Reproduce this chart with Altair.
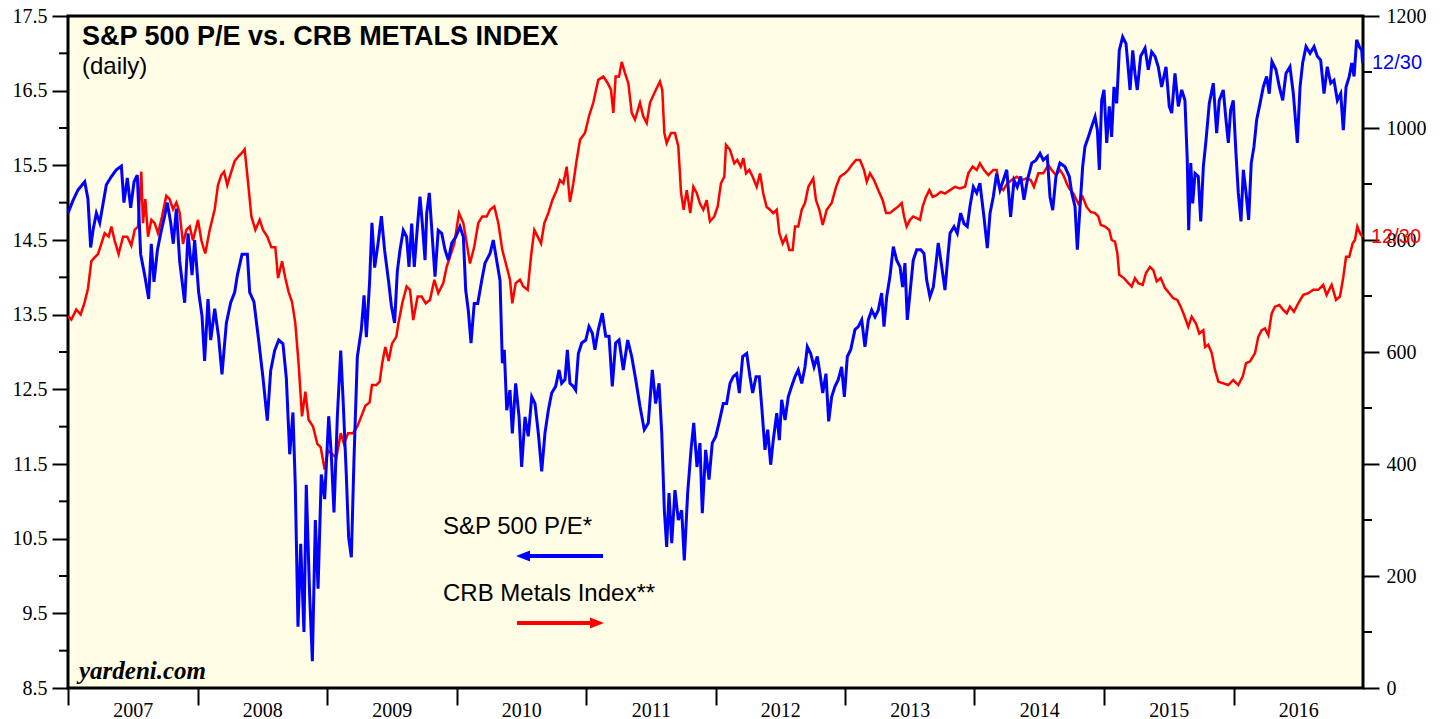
import altair as alt
import pandas as pd

# ---------------- data ----------------
PE_T = [2007.000, 2007.039, 2007.077, 2007.129, 2007.154, 2007.175, 2007.193, 2007.219, 2007.245, 2007.270,
        2007.296, 2007.335, 2007.373, 2007.412, 2007.432, 2007.458, 2007.484, 2007.510, 2007.535, 2007.561,
        2007.592, 2007.623, 2007.643, 2007.664, 2007.690, 2007.716, 2007.746, 2007.767, 2007.793, 2007.813,
        2007.837, 2007.862, 2007.901, 2007.927, 2007.958, 2007.978, 2008.009, 2008.035, 2008.055, 2008.081,
        2008.102, 2008.133, 2008.163, 2008.189, 2008.223, 2008.256, 2008.287, 2008.308, 2008.344, 2008.385,
        2008.403, 2008.436, 2008.472, 2008.506, 2008.539, 2008.565, 2008.596, 2008.627, 2008.660, 2008.686,
        2008.712, 2008.737, 2008.755, 2008.776, 2008.797, 2008.822, 2008.840, 2008.866, 2008.887, 2008.910,
        2008.931, 2008.956, 2008.982, 2009.013, 2009.033, 2009.054, 2009.080, 2009.106, 2009.124, 2009.149,
        2009.167, 2009.188, 2009.208, 2009.234, 2009.265, 2009.286, 2009.304, 2009.329, 2009.347, 2009.368,
        2009.394, 2009.420, 2009.445, 2009.476, 2009.497, 2009.522, 2009.543, 2009.564, 2009.589, 2009.615,
        2009.633, 2009.654, 2009.674, 2009.700, 2009.718, 2009.736, 2009.757, 2009.770, 2009.790, 2009.813,
        2009.834, 2009.859, 2009.886, 2009.911, 2009.937, 2009.963, 2009.994, 2010.027, 2010.053, 2010.071,
        2010.091, 2010.112, 2010.137, 2010.164, 2010.195, 2010.220, 2010.259, 2010.284, 2010.310, 2010.336,
        2010.354, 2010.369, 2010.388, 2010.413, 2010.431, 2010.457, 2010.483, 2010.503, 2010.529, 2010.554,
        2010.581, 2010.606, 2010.632, 2010.658, 2010.683, 2010.709, 2010.735, 2010.766, 2010.792, 2010.812,
        2010.838, 2010.856, 2010.876, 2010.902, 2010.920, 2010.941, 2010.967, 2010.998, 2011.023, 2011.049,
        2011.069, 2011.095, 2011.126, 2011.152, 2011.178, 2011.203, 2011.229, 2011.255, 2011.288, 2011.322,
        2011.353, 2011.384, 2011.417, 2011.450, 2011.481, 2011.512, 2011.538, 2011.564, 2011.585, 2011.605,
        2011.623, 2011.641, 2011.662, 2011.687, 2011.713, 2011.739, 2011.759, 2011.785, 2011.811, 2011.832,
        2011.857, 2011.880, 2011.898, 2011.924, 2011.950, 2011.975, 2012.002, 2012.027, 2012.060, 2012.086,
        2012.112, 2012.137, 2012.164, 2012.184, 2012.210, 2012.241, 2012.266, 2012.287, 2012.313, 2012.338,
        2012.357, 2012.382, 2012.403, 2012.426, 2012.446, 2012.473, 2012.493, 2012.511, 2012.537, 2012.562,
        2012.588, 2012.614, 2012.639, 2012.666, 2012.691, 2012.709, 2012.735, 2012.761, 2012.786, 2012.807,
        2012.828, 2012.853, 2012.874, 2012.897, 2012.923, 2012.948, 2012.974, 2012.995, 2013.018, 2013.044,
        2013.077, 2013.103, 2013.129, 2013.154, 2013.180, 2013.206, 2013.232, 2013.257, 2013.283, 2013.301,
        2013.322, 2013.347, 2013.373, 2013.399, 2013.425, 2013.445, 2013.463, 2013.481, 2013.502, 2013.527,
        2013.554, 2013.585, 2013.610, 2013.631, 2013.656, 2013.682, 2013.703, 2013.720, 2013.747, 2013.772,
        2013.790, 2013.811, 2013.842, 2013.867, 2013.893, 2013.919, 2013.944, 2013.965, 2013.991, 2014.017,
        2014.042, 2014.073, 2014.099, 2014.120, 2014.145, 2014.171, 2014.197, 2014.222, 2014.249, 2014.279,
        2014.305, 2014.330, 2014.357, 2014.382, 2014.408, 2014.442, 2014.475, 2014.506, 2014.531, 2014.562,
        2014.583, 2014.604, 2014.629, 2014.660, 2014.699, 2014.732, 2014.751, 2014.776, 2014.794, 2014.815,
        2014.835, 2014.853, 2014.879, 2014.905, 2014.931, 2014.949, 2014.964, 2014.982, 2015.000, 2015.021,
        2015.041, 2015.059, 2015.077, 2015.098, 2015.118, 2015.144, 2015.170, 2015.188, 2015.201, 2015.222,
        2015.239, 2015.257, 2015.283, 2015.317, 2015.342, 2015.368, 2015.394, 2015.419, 2015.445, 2015.479,
        2015.504, 2015.523, 2015.548, 2015.574, 2015.600, 2015.625, 2015.643, 2015.654, 2015.670, 2015.685,
        2015.703, 2015.728, 2015.747, 2015.767, 2015.788, 2015.813, 2015.844, 2015.870, 2015.890, 2015.921,
        2015.942, 2015.960, 2015.978, 2015.998, 2016.019, 2016.037, 2016.058, 2016.076, 2016.097, 2016.117,
        2016.137, 2016.158, 2016.179, 2016.205, 2016.230, 2016.256, 2016.276, 2016.297, 2016.328, 2016.354,
        2016.380, 2016.405, 2016.436, 2016.462, 2016.493, 2016.514, 2016.534, 2016.560, 2016.591, 2016.622,
        2016.647, 2016.673, 2016.699, 2016.724, 2016.751, 2016.776, 2016.802, 2016.828, 2016.848, 2016.869,
        2016.894, 2016.913, 2016.931, 2016.951, 2016.971, 2016.990, 2016.997]

PE_V = [14.86, 15.03, 15.17, 15.28, 15.05, 14.40, 14.63, 14.86, 14.73, 14.98,
        15.24, 15.35, 15.44, 15.49, 15.00, 15.33, 14.93, 15.28, 15.37, 14.31,
        14.03, 13.71, 14.45, 13.94, 14.36, 14.59, 14.82, 15.00, 14.73, 14.45,
        14.92, 14.22, 13.66, 14.59, 14.03, 14.50, 13.80, 13.48, 12.88, 13.71,
        13.16, 13.58, 13.20, 12.70, 13.39, 13.66, 13.80, 14.03, 14.31, 14.31,
        13.80, 13.67, 13.16, 12.65, 12.08, 12.75, 13.02, 13.16, 13.11, 12.65,
        11.63, 12.19, 11.22, 9.32, 10.43, 9.25, 11.22, 9.74, 8.86, 10.75,
        9.83, 11.36, 11.03, 12.14, 11.63, 10.85, 12.14, 13.02, 12.37, 11.36,
        10.52, 10.25, 11.54, 12.93, 13.30, 13.76, 13.20, 13.94, 14.73, 14.13,
        14.45, 14.82, 14.36, 13.94, 13.62, 13.39, 14.08, 14.37, 14.63, 14.54,
        14.14, 14.72, 14.14, 14.72, 15.08, 14.72, 14.23, 14.86, 15.13, 14.54,
        14.01, 14.63, 14.59, 14.37, 14.23, 14.46, 14.54, 14.68, 14.54, 13.83,
        13.56, 13.12, 13.65, 13.65, 13.96, 14.19, 14.32, 14.50, 14.23, 13.96,
        12.85, 13.03, 12.22, 12.49, 11.91, 12.58, 12.13, 11.46, 12.13, 11.87,
        12.40, 12.31, 11.91, 11.40, 11.91, 12.22, 12.45, 12.54, 12.76, 12.58,
        12.63, 13.03, 12.58, 12.54, 12.49, 12.98, 13.12, 13.16, 13.34, 13.25,
        13.03, 13.30, 13.52, 13.21, 13.21, 12.54, 13.12, 13.16, 12.76, 13.16,
        12.94, 12.63, 12.27, 11.96, 12.05, 12.76, 12.31, 12.58, 11.91, 10.88,
        10.39, 11.11, 10.44, 11.15, 10.75, 10.88, 10.21, 11.11, 11.69, 12.05,
        11.46, 11.78, 10.84, 11.69, 11.29, 11.78, 11.87, 12.05, 12.31, 12.31,
        12.58, 12.67, 12.71, 12.45, 12.94, 12.98, 12.67, 12.45, 12.67, 12.67,
        12.27, 11.69, 11.96, 11.49, 11.82, 12.18, 11.82, 12.36, 12.09, 12.40,
        12.54, 12.67, 12.76, 12.58, 12.80, 13.07, 12.98, 12.80, 12.94, 12.71,
        12.45, 12.71, 12.07, 12.40, 12.54, 12.63, 12.80, 12.40, 12.94, 13.03,
        13.30, 13.34, 13.43, 13.07, 13.43, 13.56, 13.47, 13.56, 13.79, 13.34,
        13.74, 14.01, 14.41, 14.23, 14.14, 13.87, 14.19, 13.43, 13.79, 14.23,
        14.37, 14.37, 14.32, 13.96, 13.74, 13.87, 14.19, 14.46, 14.14, 13.83,
        14.19, 14.59, 14.68, 14.59, 14.86, 14.72, 14.68, 14.95, 15.21, 15.13,
        15.26, 14.81, 14.39, 14.86, 15.08, 15.39, 15.17, 15.30, 15.44, 14.81,
        15.30, 15.21, 15.35, 15.04, 15.30, 15.53, 15.57, 15.66, 15.57, 15.62,
        15.08, 14.90, 15.35, 15.53, 15.48, 15.35, 15.13, 14.95, 14.37, 14.95,
        15.48, 15.75, 15.88, 16.02, 16.15, 15.97, 15.44, 16.37, 16.51, 15.80,
        16.29, 15.88, 16.55, 16.33, 17.04, 17.22, 17.13, 16.78, 16.51, 17.04,
        16.73, 16.51, 16.96, 17.07, 16.78, 17.02, 16.96, 16.82, 16.55, 16.82,
        16.29, 16.20, 16.73, 16.29, 16.51, 16.37, 15.57, 14.63, 15.53, 14.99,
        15.39, 15.35, 14.75, 15.48, 15.84, 16.33, 16.60, 15.93, 16.37, 16.51,
        16.11, 15.80, 16.24, 16.37, 15.66, 15.13, 14.75, 15.44, 15.13, 14.77,
        15.53, 15.75, 16.11, 16.33, 16.55, 16.69, 16.46, 16.89, 16.78, 16.55,
        16.37, 16.73, 16.82, 16.46, 15.80, 16.55, 16.87, 17.09, 17.00, 17.09,
        16.96, 16.91, 16.46, 16.82, 16.60, 16.64, 16.37, 16.46, 15.97, 16.55,
        16.69, 16.87, 16.69, 17.18, 17.09, 17.04, 16.87]

CRB_T = [2007.000, 2007.026, 2007.064, 2007.098, 2007.129, 2007.154, 2007.180, 2007.206, 2007.232, 2007.257,
         2007.283, 2007.314, 2007.335, 2007.360, 2007.391, 2007.425, 2007.458, 2007.489, 2007.515, 2007.541,
         2007.566, 2007.579, 2007.597, 2007.618, 2007.644, 2007.669, 2007.695, 2007.726, 2007.759, 2007.785,
         2007.811, 2007.837, 2007.862, 2007.888, 2007.914, 2007.940, 2007.965, 2008.004, 2008.030, 2008.060,
         2008.094, 2008.133, 2008.158, 2008.184, 2008.205, 2008.230, 2008.261, 2008.287, 2008.318, 2008.344,
         2008.364, 2008.390, 2008.416, 2008.447, 2008.480, 2008.506, 2008.539, 2008.570, 2008.601, 2008.622,
         2008.653, 2008.678, 2008.704, 2008.730, 2008.755, 2008.781, 2008.807, 2008.833, 2008.858, 2008.892,
         2008.925, 2008.951, 2008.982, 2009.008, 2009.039, 2009.072, 2009.106, 2009.131, 2009.162, 2009.201,
         2009.234, 2009.265, 2009.296, 2009.329, 2009.347, 2009.381, 2009.407, 2009.425, 2009.450, 2009.476,
         2009.502, 2009.535, 2009.551, 2009.581, 2009.615, 2009.641, 2009.666, 2009.700, 2009.731, 2009.762,
         2009.795, 2009.829, 2009.859, 2009.898, 2009.924, 2009.950, 2009.983, 2010.019, 2010.053, 2010.079,
         2010.104, 2010.137, 2010.168, 2010.199, 2010.233, 2010.259, 2010.292, 2010.323, 2010.354, 2010.388,
         2010.413, 2010.431, 2010.457, 2010.490, 2010.516, 2010.550, 2010.575, 2010.601, 2010.627, 2010.653,
         2010.678, 2010.709, 2010.740, 2010.774, 2010.799, 2010.825, 2010.851, 2010.876, 2010.902, 2010.928,
         2010.954, 2010.992, 2011.023, 2011.056, 2011.095, 2011.134, 2011.168, 2011.193, 2011.211, 2011.229,
         2011.255, 2011.276, 2011.301, 2011.327, 2011.353, 2011.378, 2011.417, 2011.442, 2011.469, 2011.494,
         2011.527, 2011.571, 2011.589, 2011.605, 2011.623, 2011.656, 2011.687, 2011.713, 2011.734, 2011.754,
         2011.778, 2011.805, 2011.829, 2011.855, 2011.880, 2011.906, 2011.932, 2011.957, 2011.991, 2012.017,
         2012.042, 2012.068, 2012.081, 2012.112, 2012.145, 2012.168, 2012.195, 2012.215, 2012.236, 2012.261,
         2012.287, 2012.318, 2012.344, 2012.369, 2012.395, 2012.421, 2012.446, 2012.473, 2012.493, 2012.519,
         2012.544, 2012.570, 2012.596, 2012.614, 2012.639, 2012.666, 2012.691, 2012.717, 2012.755, 2012.776,
         2012.802, 2012.828, 2012.859, 2012.897, 2012.931, 2012.961, 2013.000, 2013.025, 2013.052, 2013.085,
         2013.116, 2013.147, 2013.168, 2013.193, 2013.224, 2013.257, 2013.291, 2013.317, 2013.347, 2013.378,
         2013.412, 2013.438, 2013.456, 2013.476, 2013.502, 2013.527, 2013.554, 2013.579, 2013.600, 2013.625,
         2013.651, 2013.677, 2013.708, 2013.739, 2013.772, 2013.811, 2013.849, 2013.888, 2013.927, 2013.952,
         2013.986, 2014.017, 2014.042, 2014.073, 2014.107, 2014.145, 2014.171, 2014.191, 2014.222, 2014.253,
         2014.287, 2014.326, 2014.364, 2014.403, 2014.434, 2014.459, 2014.493, 2014.531, 2014.570, 2014.596,
         2014.629, 2014.660, 2014.686, 2014.712, 2014.732, 2014.763, 2014.802, 2014.835, 2014.866, 2014.897,
         2014.931, 2014.956, 2014.975, 2015.008, 2015.041, 2015.059, 2015.085, 2015.103, 2015.118, 2015.154,
         2015.188, 2015.214, 2015.239, 2015.265, 2015.299, 2015.324, 2015.355, 2015.381, 2015.407, 2015.438,
         2015.471, 2015.504, 2015.535, 2015.566, 2015.592, 2015.618, 2015.651, 2015.677, 2015.710, 2015.736,
         2015.767, 2015.780, 2015.805, 2015.832, 2015.857, 2015.883, 2015.921, 2015.960, 2015.998, 2016.037,
         2016.071, 2016.097, 2016.127, 2016.166, 2016.191, 2016.218, 2016.243, 2016.269, 2016.295, 2016.320,
         2016.354, 2016.384, 2016.411, 2016.436, 2016.467, 2016.500, 2016.539, 2016.578, 2016.616, 2016.655,
         2016.693, 2016.719, 2016.758, 2016.792, 2016.822, 2016.848, 2016.869, 2016.894, 2016.920, 2016.938,
         2016.956, 2016.977, 2016.997]

CRB_V = [664, 658, 676, 667, 689, 713, 762, 769, 775, 793,
         812, 806, 824, 799, 775, 806, 806, 790, 818, 824,
         922, 830, 873, 806, 836, 830, 812, 842, 879, 873,
         855, 867, 849, 793, 818, 824, 799, 836, 799, 776,
         818, 855, 898, 916, 922, 898, 922, 941, 950, 956,
         962, 904, 842, 818, 836, 818, 806, 787, 787, 732,
         762, 732, 707, 689, 652, 578, 485, 529, 479, 467,
         436, 430, 390, 424, 418, 411, 455, 436, 455, 455,
         467, 485, 504, 510, 541, 541, 547, 578, 609, 584,
         615, 627, 651, 687, 717, 711, 657, 699, 699, 687,
         693, 729, 705, 723, 752, 770, 794, 848, 830, 794,
         758, 788, 830, 842, 842, 854, 860, 830, 782, 752,
         729, 687, 723, 729, 717, 711, 770, 818, 806, 794,
         830, 848, 871, 889, 907, 901, 931, 868, 901, 943,
         979, 991, 1021, 1045, 1086, 1092, 1080, 1068, 1027, 1092,
         1092, 1118, 1098, 1080, 1027, 1015, 1045, 1021, 1009, 1045,
         1062, 1083, 1068, 991, 973, 991, 991, 967, 884, 854,
         889, 848, 895, 884, 865, 854, 871, 833, 842, 860,
         901, 913, 970, 961, 937, 943, 931, 946, 919, 925,
         913, 895, 919, 883, 859, 854, 848, 854, 812, 794,
         806, 782, 782, 824, 824, 854, 866, 895, 910, 871,
         854, 827, 854, 866, 895, 913, 919, 925, 934, 943,
         943, 925, 904, 919, 907, 889, 871, 848, 848, 854,
         860, 866, 842, 824, 836, 842, 839, 836, 860, 877,
         889, 877, 880, 886, 883, 889, 895, 892, 895, 919,
         931, 925, 937, 925, 916, 925, 925, 895, 889, 901,
         907, 913, 907, 910, 907, 895, 919, 919, 934, 925,
         916, 925, 916, 901, 892, 883, 865, 877, 859, 850,
         848, 842, 827, 824, 818, 800, 797, 776, 738, 732,
         723, 717, 732, 723, 720, 741, 752, 746, 726, 732,
         714, 705, 696, 693, 681, 666, 645, 663, 651, 633,
         639, 609, 613, 598, 568, 547, 544, 541, 550, 541,
         556, 580, 583, 598, 627, 639, 642, 630, 669, 681,
         684, 675, 669, 681, 672, 687, 702, 705, 711, 711,
         720, 702, 720, 693, 699, 734, 770, 770, 794, 800,
         824, 812, 806]

YEARS = list(range(2007, 2017))
PE_MAJOR = [8.5, 9.5, 10.5, 11.5, 12.5, 13.5, 14.5, 15.5, 16.5, 17.5]
PE_MINOR = [9, 10, 11, 12, 13, 14, 15, 16, 17]
CRB_MAJOR = [0, 200, 400, 600, 800, 1000, 1200]
CRB_MINOR = [100, 300, 500, 700, 900, 1100]

TITLE = "S&P 500 P/E vs. CRB METALS INDEX"
SUBTITLE = "(daily)"
SOURCE = "yardeni.com"
PE_LABEL = "S&P 500 P/E*"
CRB_LABEL = "CRB Metals Index**"
LAST_LABEL = "12/30"

BLUE = "#0000ff"
RED = "#ff0000"
W, H = 1295, 672
SANS = "Liberation Sans"
SERIF = "Liberation Serif"

pe_df = pd.DataFrame({"t": PE_T, "pe": PE_V})
crb_df = pd.DataFrame({"t": CRB_T, "crb": CRB_V})

xscale = alt.Scale(domain=[2007, 2017], nice=False, zero=False)
pe_scale = alt.Scale(domain=[8.5, 17.5], nice=False, zero=False)
crb_scale = alt.Scale(domain=[0, 1200], nice=False, zero=False)

xaxis = alt.Axis(values=YEARS, format="d", title=None, tickSize=17, tickWidth=2, tickColor="black",
                 labelOffset=W / 20, labelFont=SERIF, labelFontSize=20, labelColor="black",
                 labelPadding=-5, domain=False, grid=False, labelFlush=False, labelOverlap=False)

blue = alt.Chart(pe_df).mark_line(color=BLUE, strokeWidth=3).encode(
    x=alt.X("t:Q", scale=xscale, axis=xaxis),
    y=alt.Y("pe:Q", scale=pe_scale,
            axis=alt.Axis(orient="left", values=PE_MAJOR, format=".1f", title=None, tickSize=16,
                          tickWidth=2, tickColor="black", labelFont=SERIF, labelFontSize=20,
                          labelColor="black", labelPadding=5, domain=False, grid=False,
                          labelFlush=False, labelOverlap=False)),
)

red = alt.Chart(crb_df).mark_line(color=RED, strokeWidth=2.5).encode(
    x=alt.X("t:Q", scale=xscale, axis=xaxis),
    y=alt.Y("crb:Q", scale=crb_scale,
            axis=alt.Axis(orient="right", values=CRB_MAJOR, format="d", title=None, tickSize=16,
                          tickWidth=2, tickColor="black", labelFont=SERIF, labelFontSize=20,
                          labelColor="black", labelPadding=7, domain=False, grid=False,
                          labelFlush=False, labelOverlap=False)),
)

pe_minor = alt.Chart(pd.DataFrame({"v": PE_MINOR})).mark_rule(color="black", strokeWidth=2).encode(
    y=alt.Y("v:Q", scale=pe_scale, axis=None), x=alt.value(-9), x2=alt.value(0))
crb_minor = alt.Chart(pd.DataFrame({"v": CRB_MINOR})).mark_rule(color="black", strokeWidth=2).encode(
    y=alt.Y("v:Q", scale=crb_scale, axis=None), x=alt.value(W), x2=alt.value(W + 9))

pe_last = alt.Chart(pd.DataFrame({"v": [PE_V[-1]], "s": [LAST_LABEL]})).mark_text(
    align="left", baseline="middle", font=SANS, fontSize=20, color=BLUE).encode(
    y=alt.Y("v:Q", scale=pe_scale, axis=None), x=alt.value(W + 9), text="s:N")
crb_last = alt.Chart(pd.DataFrame({"v": [CRB_V[-1]], "s": [LAST_LABEL]})).mark_text(
    align="left", baseline="middle", font=SANS, fontSize=20, color=RED).encode(
    y=alt.Y("v:Q", scale=crb_scale, axis=None), x=alt.value(W + 8), text="s:N")


def label(text, x, y, **kw):
    return alt.Chart(pd.DataFrame({"s": [text]})).mark_text(
        align="left", baseline="alphabetic", **kw).encode(
        x=alt.value(x), y=alt.value(y), text="s:N")


title = label(TITLE, 14, 29, font=SANS, fontSize=27, fontWeight="bold", color="black")
subtitle = label(SUBTITLE, 14, 58, font=SANS, fontSize=24, color="black")
source = label(SOURCE, 11, 663, font=SERIF, fontSize=25, fontWeight="bold", fontStyle="italic", color="black")
pe_text = label(PE_LABEL, 375, 518, font=SANS, fontSize=24, color="black")
crb_text = label(CRB_LABEL, 375, 585, font=SANS, fontSize=24, color="black")

one = pd.DataFrame({"a": [0]})
blue_shaft = alt.Chart(one).mark_rule(color=BLUE, strokeWidth=4).encode(
    x=alt.value(460), x2=alt.value(535), y=alt.value(540))
blue_head = alt.Chart(one).mark_point(shape="M -1 0 L 1 -0.8 L 1 0.8 Z", filled=True, size=196,
                                      color=BLUE, opacity=1, strokeWidth=0).encode(
    x=alt.value(455), y=alt.value(540))
red_shaft = alt.Chart(one).mark_rule(color=RED, strokeWidth=4).encode(
    x=alt.value(449), x2=alt.value(524), y=alt.value(607))
red_head = alt.Chart(one).mark_point(shape="M 1 0 L -1 -0.8 L -1 0.8 Z", filled=True, size=196,
                                     color=RED, opacity=1, strokeWidth=0).encode(
    x=alt.value(529), y=alt.value(607))

chart = alt.layer(
    red, blue, pe_minor, crb_minor, pe_last, crb_last,
    title, subtitle, source, pe_text, crb_text,
    blue_shaft, blue_head, red_shaft, red_head,
).resolve_scale(y="independent").properties(
    width=W, height=H,
    autosize=alt.AutoSizeParams(type="none"),
    padding={"left": 60, "top": 8, "right": 73, "bottom": 31},
    background="white",
).configure_view(fill="#fffde6", stroke="black", strokeWidth=3)

chart.save("out.html", embed_options={"renderer": "svg", "actions": False})
